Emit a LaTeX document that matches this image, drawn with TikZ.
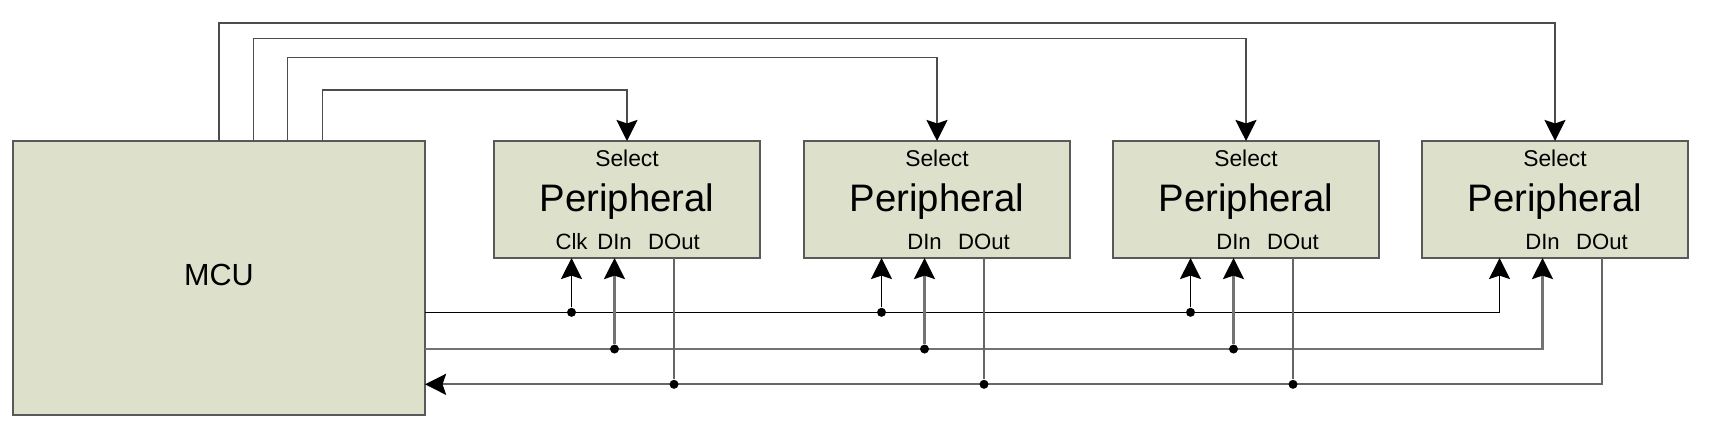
\documentclass[tikz,border=0pt]{standalone}
\usepackage{fontspec}
\setmainfont{Liberation Sans}
\usepackage{tikz}
\usetikzlibrary{positioning,arrows.meta}
\definecolor{boxfill}{RGB}{221,225,204}

\begin{document}
\begin{tikzpicture}[
  mcubox/.style={draw=black!65, line width=0.5pt, fill=boxfill,
                 minimum width=4.12cm, minimum height=2.74cm,
                 inner sep=0pt, outer sep=0pt},
  periph/.style={draw=black!65, line width=0.5pt, fill=boxfill,
                 minimum width=2.66cm, minimum height=1.17cm,
                 inner sep=0pt, outer sep=0pt},
  mcutxt/.style={font=\fontsize{8.7}{10}\selectfont, inner sep=0pt},
  ptitle/.style={font=\fontsize{10.9}{12}\selectfont, inner sep=0pt, anchor=base},
  sel/.style={font=\fontsize{6.5}{7.5}\selectfont, inner sep=0pt, anchor=base},
  pin/.style={font=\fontsize{6.3}{7.5}\selectfont, inner sep=0pt, anchor=base},
  tip/.style={-{Stealth[length=6pt, width=6pt, inset=1pt, color=black, fill=black]}},
  clkbus/.style={black, line width=0.35pt},
  dinbus/.style={black!55, line width=0.6pt},
  doutbus/.style={black!60, line width=0.5pt},
  selline/.style={black!70, line width=0.45pt},
  dot/.style={circle, fill=black, inner sep=0pt, minimum size=0.09cm}
]
  \useasboundingbox (0,0) rectangle (17.24,-4.29);

  \node[mcubox] (mcu) at (2.19,-2.78) {};
  \node[mcutxt] (mcul) at ([yshift=0.035cm]mcu.center) {MCU};
  \node[periph, right=0.69cm of mcu.north east, anchor=north west] (p1) {};
  \node[periph, right=0.44cm of p1] (p2) {};
  \node[periph, right=0.43cm of p2] (p3) {};
  \node[periph, right=0.43cm of p3] (p4) {};

  \node[ptitle] (n1) at ([yshift=-0.70cm]p1.north) {Peripheral};
  \node[ptitle] (n2) at ([yshift=-0.70cm]p2.north) {Peripheral};
  \node[ptitle] (n3) at ([yshift=-0.70cm]p3.north) {Peripheral};
  \node[ptitle] (n4) at ([yshift=-0.70cm]p4.north) {Peripheral};

  \node[sel] (s1) at ([yshift=-0.25cm]p1.north) {Select};
  \node[sel] (s2) at ([yshift=-0.25cm]p2.north) {Select};
  \node[sel] (s3) at ([yshift=-0.25cm]p3.north) {Select};
  \node[sel] (s4) at ([yshift=-0.25cm]p4.north) {Select};

  % pin labels
  \node[pin] (p1clk)  at ([xshift=0.775cm, yshift=0.083cm]p1.south west) {Clk};
  \node[pin] (p1din)  at ([xshift=1.205cm, yshift=0.083cm]p1.south west) {DIn};
  \node[pin] (p1dout) at ([xshift=1.80cm, yshift=0.083cm]p1.south west) {DOut};
  \node[pin] (p2din)  at ([xshift=1.205cm, yshift=0.083cm]p2.south west) {DIn};
  \node[pin] (p2dout) at ([xshift=1.80cm, yshift=0.083cm]p2.south west) {DOut};
  \node[pin] (p3din)  at ([xshift=1.205cm, yshift=0.083cm]p3.south west) {DIn};
  \node[pin] (p3dout) at ([xshift=1.80cm, yshift=0.083cm]p3.south west) {DOut};
  \node[pin] (p4din)  at ([xshift=1.205cm, yshift=0.083cm]p4.south west) {DIn};
  \node[pin] (p4dout) at ([xshift=1.80cm, yshift=0.083cm]p4.south west) {DOut};

  \coordinate (p1c) at (p1clk |- p1.south);
  \coordinate (p1i) at (p1din |- p1.south);
  \coordinate (p1o) at (p1dout |- p1.south);
  \coordinate (p2c) at ([xshift=0.775cm]p2.south west);
  \coordinate (p2i) at (p2din |- p2.south);
  \coordinate (p2o) at (p2dout |- p2.south);
  \coordinate (p3c) at ([xshift=0.775cm]p3.south west);
  \coordinate (p3i) at (p3din |- p3.south);
  \coordinate (p3o) at (p3dout |- p3.south);
  \coordinate (p4c) at ([xshift=0.775cm]p4.south west);
  \coordinate (p4i) at (p4din |- p4.south);
  \coordinate (p4o) at (p4dout |- p4.south);

  % select lines
  \coordinate (sel1) at ([xshift=1.033cm]mcu.north);
  \coordinate (sel2) at ([xshift=0.687cm]mcu.north);
  \coordinate (sel3) at ([xshift=0.343cm]mcu.north);
  \coordinate (sel4) at (mcu.north);
  \draw[selline, tip] (sel1) -- ++(0,0.51)  -| (p1.north);
  \draw[selline, tip] (sel2) -- ++(0,0.837) -| (p2.north);
  \draw[selline, tip] (sel3) -- ++(0,1.027) -| (p3.north);
  \draw[selline, tip] (sel4) -- ++(0,1.183) -| (p4.north);

  % buses
  \coordinate (clk)  at ([yshift=-0.343cm]mcu.east);
  \coordinate (din)  at ([yshift=-0.71cm]mcu.east);
  \coordinate (dout) at ([yshift=-1.063cm]mcu.east);
  \draw[clkbus, tip] (clk) -| (p4c);
  \draw[dinbus, tip] (din) -| (p4i);
  \draw[doutbus, tip] (p4o) |- (dout);

  \node[dot] (c1) at (p1c |- clk) {};
  \node[dot] (c2) at (p2c |- clk) {};
  \node[dot] (c3) at (p3c |- clk) {};
  \node[dot] (i1) at (p1i |- din) {};
  \node[dot] (i2) at (p2i |- din) {};
  \node[dot] (i3) at (p3i |- din) {};
  \node[dot] (o1) at (p1o |- dout) {};
  \node[dot] (o2) at (p2o |- dout) {};
  \node[dot] (o3) at (p3o |- dout) {};

  \draw[clkbus, tip] (c1) -- (p1c);
  \draw[clkbus, tip] (c2) -- (p2c);
  \draw[clkbus, tip] (c3) -- (p3c);
  \draw[dinbus, tip] (i1) -- (p1i);
  \draw[dinbus, tip] (i2) -- (p2i);
  \draw[dinbus, tip] (i3) -- (p3i);
  \draw[doutbus] (p1o) -- (o1);
  \draw[doutbus] (p2o) -- (o2);
  \draw[doutbus] (p3o) -- (o3);
\end{tikzpicture}
\end{document}
